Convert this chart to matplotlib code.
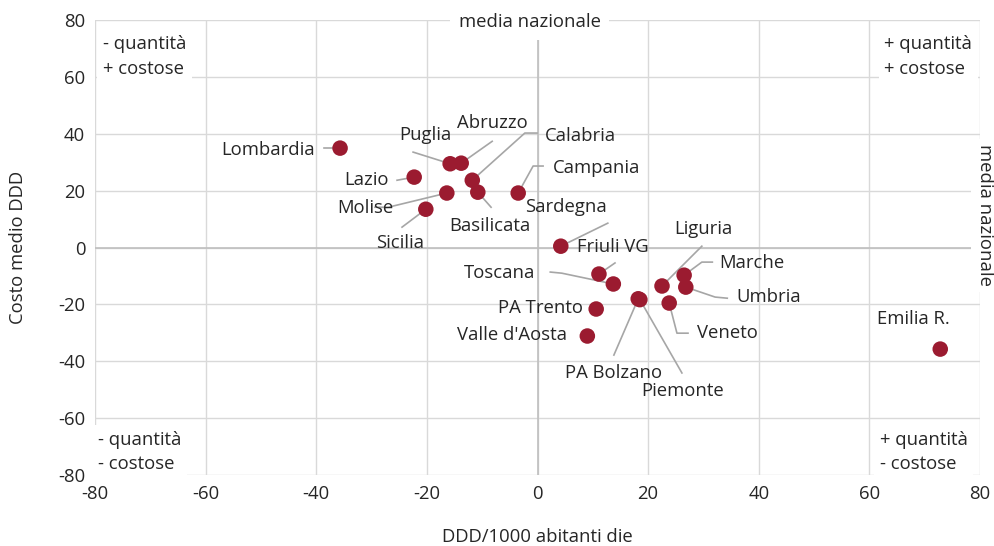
import numpy as np
import matplotlib
matplotlib.use("Agg")
import matplotlib.pyplot as plt

plt.rcParams['font.family'] = ['Open Sans', 'DejaVu Sans']
plt.rcParams['axes.unicode_minus'] = False

# data
regions = ["Lombardia", "Puglia", "Abruzzo", "Calabria", "Campania", "Lazio",
           "Molise", "Sicilia", "Basilicata", "Sardegna", "Friuli VG", "Toscana",
           "PA Trento", "Valle d'Aosta", "PA Bolzano", "Piemonte", "Liguria",
           "Marche", "Umbria", "Veneto", "Emilia R."]
ddd = [-35.7, -15.8, -13.8, -11.8, -3.5, -22.3, -16.4, -20.2, -10.8, 4.2, 11.1,
       13.7, 10.6, 9.0, 18.2, 18.5, 22.5, 26.5, 26.8, 23.8, 72.8]
costo = [35.0, 29.5, 29.7, 23.7, 19.2, 24.8, 19.2, 13.5, 19.5, 0.5, -9.3,
         -12.8, -21.6, -31.1, -18.0, -18.3, -13.5, -9.7, -13.9, -19.5, -35.7]

# label positions (data coords) and leader-line bends
label_pos = {
    "Lombardia": (-48.7, 34.3), "Puglia": (-20.3, 39.6), "Abruzzo": (-8.2, 43.8),
    "Calabria": (7.7, 39.2), "Campania": (10.6, 28.0), "Lazio": (-31.0, 23.7),
    "Molise": (-31.2, 13.9), "Sicilia": (-24.9, 1.6), "Basilicata": (-8.6, 7.6),
    "Sardegna": (5.2, 14.2), "Friuli VG": (13.7, 0.2), "Toscana": (-6.8, -9.0),
    "PA Trento": (0.6, -21.3), "Valle d'Aosta": (-4.6, -30.8),
    "PA Bolzano": (13.8, -44.1), "Piemonte": (26.3, -50.5), "Liguria": (29.9, 6.5),
    "Marche": (38.8, -5.4), "Umbria": (41.7, -17.4), "Veneto": (34.3, -30.1),
    "Emilia R.": (67.9, -25.1),
}
leaders = {
    "Lombardia": [(-38.6, 35.0)], "Puglia": [(-22.5, 33.6)], "Abruzzo": [(-8.2, 37.4)],
    "Calabria": [(-0.1, 40.3), (-2.3, 40.3)], "Campania": [(1.0, 28.7), (-0.8, 28.7)],
    "Lazio": [(-25.4, 23.7)], "Molise": [(-29.4, 14.2), (-27.0, 14.2)],
    "Sicilia": [(-24.5, 7.2)], "Basilicata": [(-8.4, 14.2)], "Sardegna": [(12.7, 8.6)],
    "Friuli VG": [(14.0, -5.4)], "Toscana": [(2.3, -8.6), (4.4, -9.0)],
    "PA Bolzano": [(13.8, -37.8)], "Piemonte": [(26.1, -44.1)],
    "Liguria": [(29.7, 0.5)], "Marche": [(31.6, -5.1), (29.7, -5.1)],
    "Umbria": [(34.3, -17.8), (32.1, -17.4)], "Veneto": [(27.2, -30.1), (25.2, -30.1)],
}

fs = 13.3
txt = '#262626'

fig = plt.figure(figsize=(9.95, 5.46), dpi=100)
ax = fig.add_axes([0.0955, 0.130, 0.8895, 0.833])

ticks = np.arange(-80, 81, 20)
ax.set_xlim(-80, 80)
ax.set_ylim(-80, 80)
ax.set_xticks(ticks)
ax.set_yticks(ticks)
ax.grid(True, color='#d9d9d9', linewidth=1)
ax.set_axisbelow(True)
for s in ax.spines.values():
    s.set_visible(False)
ax.tick_params(length=0, labelsize=fs, colors=txt, pad=7)
ax.axhline(0, color='#bfbfbf', linewidth=1.2, zorder=1)
ax.axvline(0, color='#bfbfbf', linewidth=1.2, zorder=1)

for i, name in enumerate(regions):
    px, py = ddd[i], costo[i]
    if name in leaders:
        pts = leaders[name] + [(px, py)]
        ax.plot([p[0] for p in pts], [p[1] for p in pts], color='#a6a6a6',
                linewidth=1.2, zorder=2)
    tx, ty = label_pos[name]
    ax.text(tx, ty, name, ha='center', va='center', fontsize=fs, color=txt, zorder=4)

ax.scatter(ddd, costo, s=125, color='#9b1b30', zorder=3, edgecolors='none')

box = dict(facecolor='white', edgecolor='none', pad=4)
quads = [(-78.6, 67.2, "- quantità\n+ costose"), (62.7, 67.2, "+ quantità\n+ costose"),
         (-79.5, -71.9, "- quantità\n- costose"), (61.9, -71.9, "+ quantità\n- costose")]
for qx, qy, q in quads:
    ax.text(qx, qy, q, ha='left', va='center', fontsize=fs, linespacing=1.45,
            bbox=box, zorder=5, color=txt)
ax.text(-1.4, 79.3, "media nazionale", ha='center', va='center', fontsize=fs,
        bbox=dict(facecolor='white', edgecolor='none', pad=6), zorder=5, color=txt)
ax.text(80.9, 11.4, "media nazionale", ha='center', va='center', fontsize=fs,
        rotation=270, bbox=box, zorder=5, color=txt, clip_on=False)

ax.set_xlabel("DDD/1000 abitanti die", fontsize=fs, color=txt, labelpad=18)
ax.set_ylabel("Costo medio DDD", fontsize=fs, color=txt, labelpad=22)

fig.savefig("out.png", dpi=100)
